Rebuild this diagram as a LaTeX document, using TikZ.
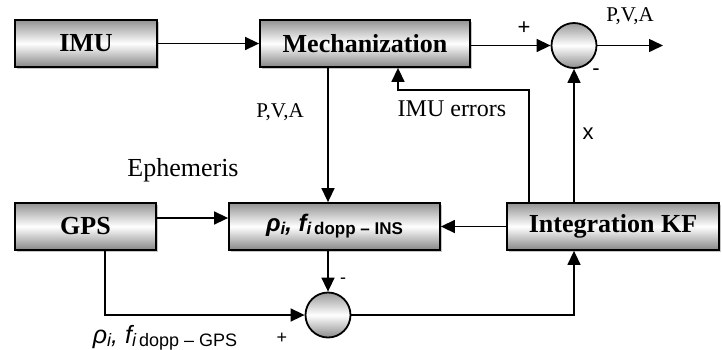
\documentclass[tikz,border=0pt]{standalone}
\usepackage{fontspec}
\setmainfont{Liberation Serif}
\setsansfont{Liberation Sans}
\usetikzlibrary{arrows.meta,shadows,calc}

\tikzset{
  blk/.style={draw, line width=1.8pt, minimum height=47pt, inner sep=0pt,
    top color=gray!85, bottom color=gray!95, middle color=white,
    font=\fontsize{26}{26}\selectfont\bfseries,
    drop shadow={shadow xshift=1.5pt, shadow yshift=-1.5pt, fill=gray!45, opacity=1}},
  sumnode/.style={circle, draw, line width=1.8pt, minimum size=45pt, inner sep=0pt,
    top color=gray!80, bottom color=gray!90, middle color=white},
  conn/.style={line width=1.5pt, -{Triangle[length=14pt,width=13pt]}},
  lbl/.style={inner sep=0pt},
  serlbl/.style={lbl, font=\fontsize{21}{21}\selectfont},
  sign/.style={lbl, font=\sffamily\fontsize{22}{22}\selectfont},
}

\begin{document}
\begin{tikzpicture}[x=1pt, y=-1pt]
  \useasboundingbox (0,0) rectangle (722,349);

  % blocks
  \node[blk, minimum width=142pt] (imu)  at (86,43.5)   {IMU};
  \node[blk, minimum width=210pt] (mech) at (365,43.5)  {Mechanization};
  \node[blk, minimum width=141pt] (gps)  at (85.5,226.5) {GPS};
  \node[blk, minimum width=211pt, font=\sffamily\bfseries\fontsize{24}{24}\selectfont] (rho) at (334.5,226.5)
    {\itshape ρ\raisebox{-3pt}{\fontsize{17}{17}\selectfont i}, f\raisebox{-3pt}{\fontsize{17}{17}\selectfont i\,\upshape dopp – INS}};
  \node[blk, minimum width=212pt] (kf)   at (613,226.5) {Integration KF};

  % summing junctions
  \node[sumnode] (sum1) at (574,45.5) {};
  \node[sumnode] (sum2) at (328,315) {};

  % helper points
  \coordinate (out)  at (663,45.5);
  \coordinate (fb)   at (529,90);
  \coordinate (errx) at (398,90);
  \coordinate (eph)  at (157,218);
  \coordinate (gpsx) at (105,0);

  % connectors
  \draw[conn] (imu.east) -- (mech.west);
  \draw[conn] (mech.east |- sum1) -- (sum1.west);
  \draw[conn] (sum1.east) -- (out);
  \draw[conn] (kf.north -| sum1) -- (sum1.south);
  \draw[conn] (kf.north -| fb) -- (fb) -- (errx) -- (errx |- mech.south);
  \draw[conn] (mech.south -| sum2) -- (rho.north -| sum2);
  \draw[conn] (gps.east |- eph) -- (rho.west |- eph);
  \draw[conn] (kf.west) -- (rho.east);
  \draw[conn] (rho.south -| sum2) -- (sum2.north);
  \draw[conn] (gps.south -| gpsx) |- (sum2.west);
  \draw[conn] (sum2.east) -| (kf.south -| sum1);

  % labels
  \node[sign] (p1) at (524,28) {+};
  \node[sign] (m1) at (596,72) {-};
  \node[serlbl] (pva1) at (630,16) {P,V,A};
  \node[lbl, font=\fontsize{24}{24}\selectfont] (err) at (452,109) {IMU errors};
  \node[lbl, font=\sffamily\fontsize{22}{22}\selectfont] (xl) at (588,134) {x};
  \node[serlbl] (pva2) at (280,112) {P,V,A};
  \node[lbl, font=\fontsize{26}{26}\selectfont] (ephl) at (183,170) {Ephemeris};
  \node[sign, font=\sffamily\fontsize{18}{18}\selectfont] (m2) at (343,281) {-};
  \node[sign, font=\sffamily\fontsize{18}{18}\selectfont] (p2) at (282,338) {+};
  \node[lbl, font=\sffamily\fontsize{25}{25}\selectfont] (gpsl) at (165,338)
    {\itshape ρ\raisebox{-3pt}{\fontsize{18}{18}\selectfont i}, f\raisebox{-3pt}{\fontsize{18}{18}\selectfont i\,\upshape dopp – GPS}};
\end{tikzpicture}
\end{document}
